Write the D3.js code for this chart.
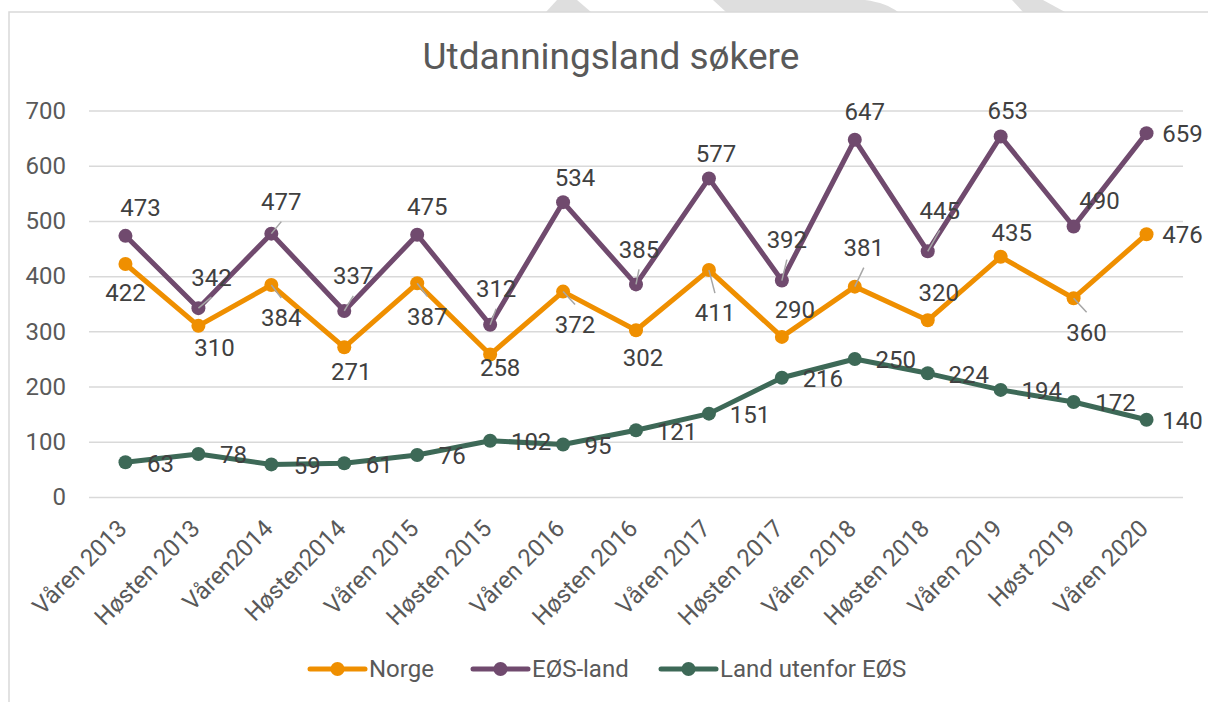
<!DOCTYPE html>
<html>
<head>
<meta charset="utf-8">
<script src="https://cdn.jsdelivr.net/npm/d3@7"></script>
<style>
  html, body { margin: 0; padding: 0; background: #fff; }
  svg { display: block; font-family: Roboto, "Noto Sans", sans-serif; }
</style>
</head>
<body>
<svg id="chart" width="1208" height="702"></svg>
<script>
// ---- data ----
const title = "Utdanningsland søkere";
const categories = ["Våren 2013", "Høsten 2013", "Våren2014", "Høsten2014", "Våren 2015", "Høsten 2015",
  "Våren 2016", "Høsten 2016", "Våren 2017", "Høsten 2017", "Våren 2018", "Høsten 2018",
  "Våren 2019", "Høst 2019", "Våren 2020"];
const seriesNames = ["Norge", "EØS-land", "Land utenfor EØS"];
const norge = [422, 310, 384, 271, 387, 258, 372, 302, 411, 290, 381, 320, 435, 360, 476];
const eosLand = [473, 342, 477, 337, 475, 312, 534, 385, 577, 392, 647, 445, 653, 490, 659];
const utenforEos = [63, 78, 59, 61, 76, 102, 95, 121, 151, 216, 250, 224, 194, 172, 140];
const yTicks = [0, 100, 200, 300, 400, 500, 600, 700];

// ---- layout (label placement offsets in px, label centre relative to point) ----
const norgeLabelOffsets = [[0,29],[16,22],[10,33],[7,24],[10,33],[10,13],[12,33],[7,27],[6,43],[13,-27],[9,-39],[11,-28],[11,-24],[13,34],[36,0]];
const eosLabelOffsets = [[15,-28],[13,-31],[10,-32],[9,-35],[10,-28],[6,-36],[12,-25],[3,-35],[7,-25],[5,-41],[10,-28],[12,-41],[7,-26],[26,-26],[36,0]];
const utenforLabelOffsets = [[35,1],[35,1],[36,1],[35,1],[35,1],[41,1],[35,1],[41,1],[41,1],[41,1],[41,1],[41,1],[41,1],[42,1],[36,1]];
const colors = ["#EF8F00", "#704A6E", "#3D6957"];

const series = [
  { name: seriesNames[0], values: norge, offsets: norgeLabelOffsets, color: colors[0] },
  { name: seriesNames[1], values: eosLand, offsets: eosLabelOffsets, color: colors[1] },
  { name: seriesNames[2], values: utenforEos, offsets: utenforLabelOffsets, color: colors[2] }
];

const FS = 24;
const svg = d3.select("#chart");
const W = 1208, H = 702;
svg.append("rect").attr("width", W).attr("height", H).attr("fill", "#fff");

// background watermark fragments above the chart frame
const wm = svg.append("g").attr("fill", "#dedede");
wm.append("path").attr("d", "M546,12 L557,0 L577,0 L591,12 Z");
wm.append("path").attr("d", "M713,0 L865,0 C880,2 890,6 898,12 L726,12 Z");
wm.append("path").attr("d", "M1012,0 L1043,0 L1065,12 L1023,12 Z");

// frame
svg.append("path").attr("d", `M9,${H} L9,12 L${W},12`).attr("fill", "none")
  .attr("stroke", "#d9d9d9").attr("stroke-width", 1.5);

// title
svg.append("text").attr("x", 611).attr("y", 69).attr("text-anchor", "middle")
  .attr("font-size", 37).attr("fill", "#595959").text(title);

const x = d3.scaleBand().domain(categories).range([89, 1183]).padding(0);
const cx = c => x(c) + x.bandwidth() / 2;
const y = d3.scaleLinear().domain([0, 700]).range([497, 110.5]);

// gridlines + y labels via axis
const yAxis = d3.axisLeft(y).tickValues(yTicks).tickSize(-(1183 - 89)).tickPadding(23).tickFormat(d3.format("d"));
const gy = svg.append("g").attr("transform", "translate(89,0)").call(yAxis);
gy.select(".domain").remove();
gy.selectAll(".tick line").attr("stroke", "#d9d9d9").attr("stroke-width", 1.5);
gy.selectAll(".tick text").attr("font-size", FS).attr("fill", "#595959").attr("font-family", "Roboto");

// x labels via axis
const xAxis = d3.axisBottom(x).tickSize(0).tickPadding(0);
const gx = svg.append("g").attr("transform", "translate(0,497)").call(xAxis);
gx.select(".domain").remove();
gx.selectAll(".tick text")
  .attr("font-size", FS).attr("fill", "#595959").attr("font-family", "Roboto")
  .attr("text-anchor", "end").attr("dy", "0.35em")
  .attr("transform", "translate(-3,27) rotate(-45)").attr("y", 0).attr("x", 0);

// lines and markers
const line = d3.line().x((d, i) => cx(categories[i])).y(d => y(d));
series.forEach(s => {
  const g = svg.append("g");
  g.append("path").datum(s.values).attr("d", line).attr("fill", "none")
    .attr("stroke", s.color).attr("stroke-width", 5).attr("stroke-linejoin", "round").attr("stroke-linecap", "round");
  g.selectAll("circle").data(s.values).join("circle")
    .attr("cx", (d, i) => cx(categories[i])).attr("cy", d => y(d)).attr("r", 7).attr("fill", s.color);
});

// leader lines + labels
const lab = svg.append("g");
series.forEach(s => {
  s.values.forEach((v, i) => {
    const px = cx(categories[i]), py = y(v);
    const [dx, dy] = s.offsets[i];
    const lx = px + dx, ly = py + dy;
    if (Math.abs(dy) > 30) {
      lab.append("line").attr("x1", px).attr("y1", py)
        .attr("x2", lx).attr("y2", ly - Math.sign(dy) * 20)
        .attr("stroke", "#a6a6a6").attr("stroke-width", 1.5);
    }
  });
});
series.forEach(s => {
  s.values.forEach((v, i) => {
    const px = cx(categories[i]), py = y(v);
    const [dx, dy] = s.offsets[i];
    lab.append("text").attr("x", px + dx).attr("y", py + dy).attr("dy", "0.35em")
      .attr("text-anchor", "middle").attr("font-size", FS).attr("fill", "#404040").text(v);
  });
});

// legend
const legendX = [310, 473, 661];
const lg = svg.append("g");
series.forEach((s, i) => {
  const lx = legendX[i], ly = 669;
  lg.append("line").attr("x1", lx).attr("x2", lx + 55).attr("y1", ly).attr("y2", ly)
    .attr("stroke", s.color).attr("stroke-width", 5).attr("stroke-linecap", "round");
  lg.append("circle").attr("cx", lx + 27.5).attr("cy", ly).attr("r", 7).attr("fill", s.color);
  lg.append("text").attr("x", lx + 59).attr("y", ly).attr("dy", "0.35em")
    .attr("font-size", FS).attr("fill", "#595959").text(s.name);
});
</script>
</body>
</html>
